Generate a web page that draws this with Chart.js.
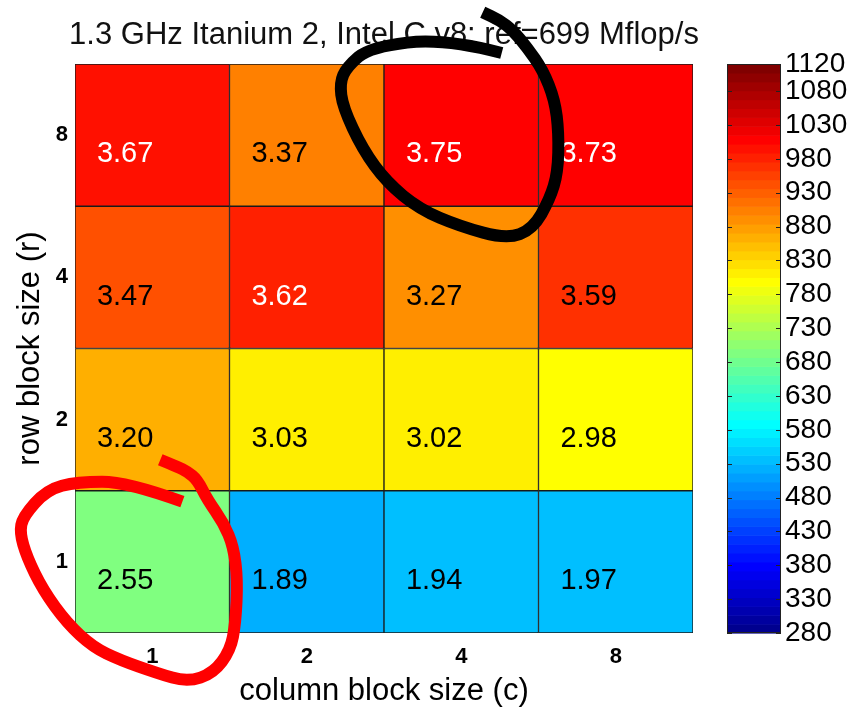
<!DOCTYPE html>
<html>
<head>
<meta charset="utf-8">
<script src="https://cdn.jsdelivr.net/npm/chart.js@4.4.1/dist/chart.umd.min.js"></script>
<style>
  html, body { margin: 0; padding: 0; background: #fff; }
  canvas { display: block; }
</style>
</head>
<body>
<canvas id="c" width="865" height="710"></canvas>
<script>
// Register-block sizes (columns c, rows r)
const colSizes = ['1', '2', '4', '8'];
const rowSizes = ['1', '2', '4', '8'];

// Speedup labels, one array per row size r (columns c = 1, 2, 4, 8)
const speedupR1 = [2.55, 1.89, 1.94, 1.97];
const speedupR2 = [3.20, 3.03, 3.02, 2.98];
const speedupR4 = [3.47, 3.62, 3.27, 3.59];
const speedupR8 = [3.67, 3.37, 3.75, 3.73];

// Performance in Mflop/s, drives the cell colour
const mflopsR1 = [693, 523, 536, 538];
const mflopsR2 = [864, 812, 810, 798];
const mflopsR4 = [943, 982, 890, 969];
const mflopsR8 = [995, 903, 1010, 1008];

// Colour bar range and tick labels
const cbMin = 280;
const cbMax = 1120;
const cbTicks = [280, 330, 380, 430, 480, 530, 580, 630, 680, 730, 780, 830, 880, 930, 980, 1030, 1080, 1120];

const titleText = '1.3 GHz Itanium 2, Intel C v8: ref=699 Mflop/s';

const speedups = [speedupR1, speedupR2, speedupR4, speedupR8];
const mflops = [mflopsR1, mflopsR2, mflopsR4, mflopsR8];

// MATLAB-style jet colormap with 64 levels
const JET_N = 64;
function ramp(j) {
  if (j < 1 || j > 47) return 0;
  if (j <= 16) return j / 16;
  if (j <= 31) return 1;
  return (48 - j) / 16;
}
function jetColor(k) {
  const r = Math.round(255 * ramp(k - 24));
  const g = Math.round(255 * ramp(k - 8));
  const b = Math.round(255 * ramp(k + 8));
  return `rgb(${r},${g},${b})`;
}
function levelFor(v) {
  let k = Math.floor((v - cbMin) / (cbMax - cbMin) * JET_N) + 1;
  return Math.max(1, Math.min(JET_N, k));
}
function colorFor(v) { return jetColor(levelFor(v)); }

const FONT = '"Liberation Sans", Arial, Helvetica, sans-serif';
Chart.defaults.font.family = FONT;
Chart.defaults.color = '#000';

// One floating-bar dataset per row size; each bar spans one row band
const datasets = rowSizes.map((r, ri) => ({
  label: 'r=' + r,
  data: colSizes.map(() => [ri, ri + 1]),
  backgroundColor: mflops[ri].map(colorFor),
  borderColor: '#1a1a1a',
  borderWidth: 1,
  borderSkipped: false,
  grouped: false,
  barPercentage: 1,
  categoryPercentage: 1,
  yAxisID: 'y'
}));

// Hand-drawn marks around two cells, points relative to the cell centre
// in units of cell width / height
const marks = [
  {
    col: 2, row: 3, color: '#000', width: 12,
    pts: [[0.262,-0.577],[-0.107,-0.682],[-0.592,-0.619],[-0.741,-0.479],[-0.786,-0.367],
          [-0.767,-0.199],[-0.638,0.101],[-0.482,0.332],[-0.269,0.521],[-0.010,0.640],
          [0.294,0.731],[0.463,0.661],[0.573,0.451],[0.625,0.262],[0.631,-0.017],
          [0.605,-0.248],[0.528,-0.458],[0.424,-0.619],[0.333,-0.738],[0.249,-0.808],[0.139,-0.864]]
  },
  {
    col: 0, row: 0, color: '#ff0000', width: 12,
    pts: [[0.195,-0.423],[-0.162,-0.563],[-0.487,-0.563],[-0.682,-0.507],[-0.838,-0.317],
          [-0.857,-0.204],[-0.812,-0.035],[-0.708,0.197],[-0.552,0.430],[-0.383,0.599],
          [-0.208,0.690],[0.032,0.782],[0.227,0.845],[0.396,0.782],[0.506,0.620],
          [0.539,0.430],[0.552,0.127],[0.526,-0.106],[0.461,-0.275],[0.357,-0.437],
          [0.292,-0.577],[0.227,-0.634],[0.162,-0.669],[0.052,-0.718]]
  }
];

function cellBox(chart, ri, ci) {
  const bar = chart.getDatasetMeta(ri).data[ci];
  const top = Math.min(bar.y, bar.base), bottom = Math.max(bar.y, bar.base);
  return { left: bar.x - bar.width / 2, cx: bar.x, cy: (top + bottom) / 2, w: bar.width, h: bottom - top };
}

const heatPlugin = {
  id: 'heat',
  afterDatasetsDraw(chart) {
    const ctx = chart.ctx;
    const area = chart.chartArea;
    ctx.save();

    // title, centred over the plot area
    ctx.font = '31px ' + FONT;
    ctx.fillStyle = '#111';
    ctx.textAlign = 'center';
    ctx.textBaseline = 'middle';
    ctx.fillText(titleText, (area.left + area.right) / 2, 35);

    // value labels inside the cells
    ctx.font = '29px ' + FONT;
    ctx.textAlign = 'left';
    rowSizes.forEach((r, ri) => {
      colSizes.forEach((c, ci) => {
        const b = cellBox(chart, ri, ci);
        ctx.fillStyle = mflops[ri][ci] >= 975 ? '#fff' : '#000';
        ctx.fillText(speedups[ri][ci].toFixed(2), b.left + 0.142 * b.w, b.cy + 0.135 * b.h);
      });
    });

    // colour bar beside the plot, on the 'cb' scale
    const cb = chart.scales.cb;
    const x0 = area.right + 34, bw = 54;
    const step = (cbMax - cbMin) / JET_N;
    for (let k = 1; k <= JET_N; k++) {
      const yA = cb.getPixelForValue(cbMin + (k - 1) * step);
      const yB = cb.getPixelForValue(cbMin + k * step);
      ctx.fillStyle = jetColor(k);
      ctx.fillRect(x0, Math.min(yA, yB), bw, Math.abs(yA - yB) + 0.6);
    }
    const yTop = cb.getPixelForValue(cbMax), yBot = cb.getPixelForValue(cbMin);
    ctx.strokeStyle = '#222';
    ctx.lineWidth = 1;
    ctx.strokeRect(x0 + 0.5, yTop + 0.5, bw - 1, yBot - yTop - 1);
    ctx.beginPath();
    cbTicks.forEach(v => {
      const y = Math.round(cb.getPixelForValue(v)) + 0.5;
      ctx.moveTo(x0, y); ctx.lineTo(x0 + 5, y);
      ctx.moveTo(x0 + bw - 5, y); ctx.lineTo(x0 + bw, y);
    });
    ctx.stroke();
    ctx.restore();
  },
  afterDraw(chart) {
    const ctx = chart.ctx;
    ctx.save();
    marks.forEach(m => {
      const b = cellBox(chart, m.row, m.col);
      const p = m.pts.map(([dx, dy]) => [b.cx + dx * b.w, b.cy + dy * b.h]);
      ctx.strokeStyle = m.color;
      ctx.lineWidth = m.width;
      ctx.lineCap = 'butt';
      ctx.lineJoin = 'round';
      ctx.beginPath();
      ctx.moveTo(p[0][0], p[0][1]);
      for (let i = 1; i < p.length - 1; i++) {
        const mx = (p[i][0] + p[i + 1][0]) / 2, my = (p[i][1] + p[i + 1][1]) / 2;
        ctx.quadraticCurveTo(p[i][0], p[i][1], mx, my);
      }
      ctx.lineTo(p[p.length - 1][0], p[p.length - 1][1]);
      ctx.stroke();
    });
    ctx.restore();
  }
};

new Chart(document.getElementById('c'), {
  type: 'bar',
  data: { labels: colSizes, datasets },
  plugins: [heatPlugin],
  options: {
    responsive: false,
    animation: false,
    devicePixelRatio: 1,
    layout: { padding: { top: 64, left: 0, right: 0, bottom: 0 } },
    plugins: {
      legend: { display: false },
      tooltip: { enabled: false },
      title: { display: false }
    },
    scales: {
      x: {
        type: 'category',
        grid: { display: false, drawTicks: false },
        border: { display: false },
        ticks: { font: { size: 22, weight: 'bold' }, padding: 11, color: '#000' },
        title: { display: true, text: 'column block size (c)', font: { size: 31 }, color: '#000', padding: { top: 3, bottom: 0 } },
        afterFit(s) { s.height = 77; }
      },
      y: {
        type: 'linear',
        min: 0,
        max: rowSizes.length,
        grid: { display: false, drawTicks: false },
        border: { display: false },
        afterBuildTicks(s) { s.ticks = rowSizes.map((r, i) => ({ value: i + 0.5 })); },
        ticks: {
          font: { size: 22, weight: 'bold' }, padding: 7, color: '#000', autoSkip: false,
          callback: v => rowSizes[Math.floor(v)]
        },
        title: { display: true, text: 'row block size (r)', font: { size: 31 }, color: '#000', padding: { top: 12, bottom: 0 } },
        afterFit(s) { s.width = 75; }
      },
      cb: {
        type: 'linear',
        position: 'right',
        min: cbMin,
        max: cbMax,
        grid: { display: false, drawTicks: false },
        border: { display: false },
        afterBuildTicks(s) { s.ticks = cbTicks.map(v => ({ value: v })); },
        ticks: {
          font: { size: 28 }, padding: 92, color: '#000', autoSkip: false,
          callback: v => String(v)
        },
        afterFit(s) { s.width = 172; s.paddingTop = 0; s.paddingBottom = 0; }
      }
    }
  }
});
</script>
</body>
</html>
